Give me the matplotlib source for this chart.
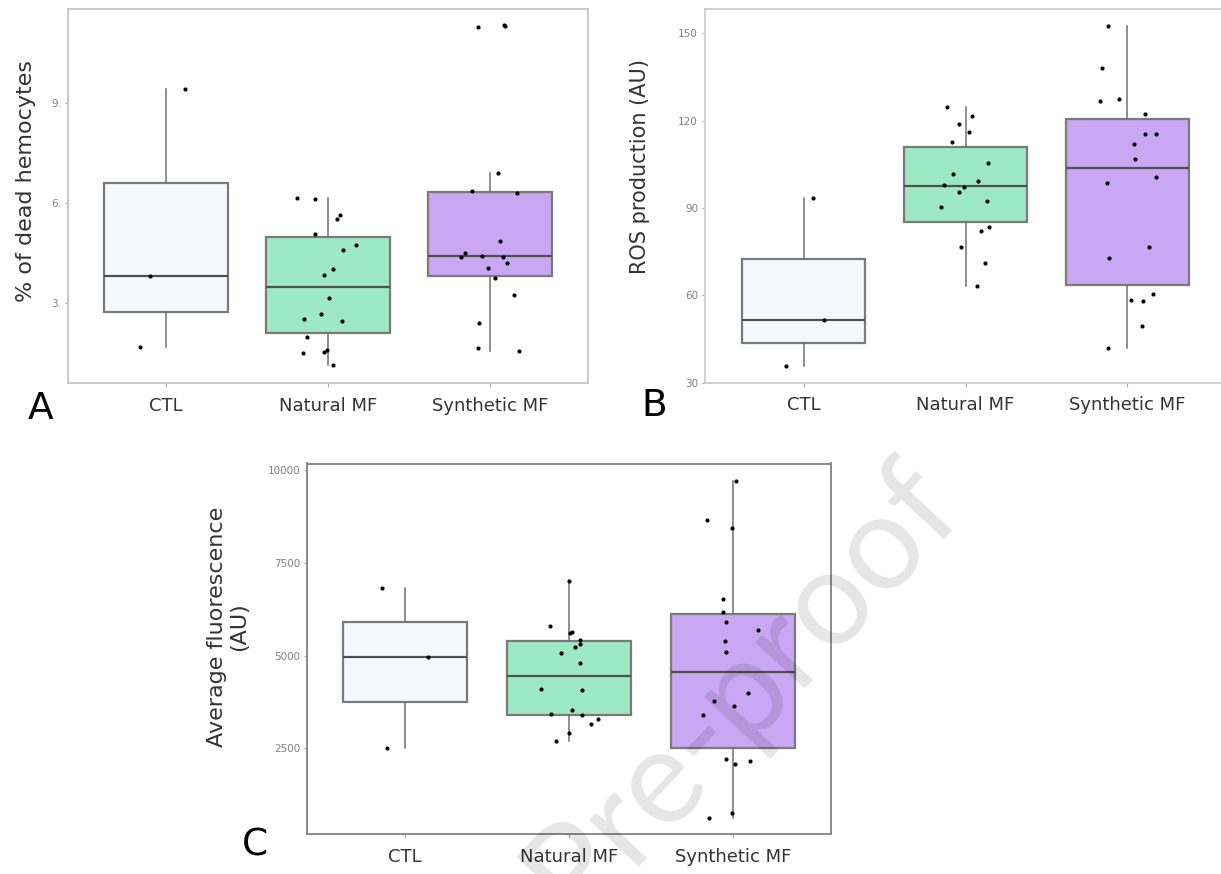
import numpy as np
import matplotlib
matplotlib.use("Agg")
import matplotlib.pyplot as plt

groups = ["CTL", "Natural MF", "Synthetic MF"]
box_colors = ["#f5f9fe", "#9de9c3", "#c9a7f2"]

# A: % of dead hemocytes
dead_ctl = [1.66, 3.79, 9.40]
dead_nat = [1.12, 1.50, 1.53, 1.57, 1.98, 2.44, 2.51, 2.67, 3.14, 3.83,
            4.00, 4.58, 4.72, 5.06, 5.51, 5.62, 6.11, 6.15]
dead_syn = [1.56, 1.64, 2.38, 3.22, 3.74, 4.04, 4.19, 4.36, 4.37, 4.41,
            4.49, 4.84, 6.28, 6.34, 6.88, 11.28, 11.30, 11.32]

# B: ROS production (AU)
ros_ctl = [35.8, 51.6, 93.5]
ros_nat = [63.2, 71.0, 76.5, 82.0, 83.5, 90.4, 92.3, 95.5, 97.0, 97.8,
           99.1, 101.5, 105.4, 112.6, 116.1, 118.9, 121.6, 124.8]
ros_syn = [41.7, 49.5, 58.0, 58.4, 60.4, 72.6, 76.7, 98.4, 100.7, 106.7,
           112.0, 115.2, 115.3, 122.4, 126.6, 127.4, 138.0, 152.6]

# C: average fluorescence (AU)
fluo_ctl = [2500, 4973, 6826]
fluo_nat = [2707, 2914, 3139, 3282, 3390, 3426, 3525, 4083, 4110, 4811,
            5063, 5225, 5324, 5423, 5612, 5630, 5800, 6997]
fluo_syn = [611, 755, 2077, 2149, 2212, 3390, 3633, 3768, 3993, 5099,
            5396, 5692, 5908, 6187, 6529, 8444, 8660, 9703]

rng = np.random.default_rng(3)

W, H = 1221, 874
fig = plt.figure(figsize=(W / 100, H / 100), dpi=100)


def px_axes(left, top, right, bottom):
    return fig.add_axes([left / W, 1 - bottom / H, (right - left) / W, (bottom - top) / H])


def draw_panel(ax, data, yticks, ylabels, ylim, xlim, spine_col):
    pos = np.arange(len(data))
    bp = ax.boxplot(data, positions=pos, widths=0.76, whis=1.5, showfliers=False,
                    patch_artist=True, showcaps=False,
                    medianprops=dict(color="#505050", linewidth=1.6),
                    whiskerprops=dict(color="#707070", linewidth=1.1),
                    boxprops=dict(edgecolor="#7a7a7a", linewidth=1.6))
    for patch, c in zip(bp["boxes"], box_colors):
        patch.set_facecolor(c)
    for i, vals in enumerate(data):
        x = i + rng.uniform(-0.19, 0.19, len(vals))
        ax.scatter(x, vals, s=9, color="black", zorder=5, linewidths=0)
    ax.set_xlim(*xlim)
    ax.set_ylim(*ylim)
    ax.set_xticks(pos)
    ax.set_xticklabels(groups, fontsize=13, color="#333333")
    ax.set_yticks(yticks)
    ax.set_yticklabels(ylabels, fontsize=7.5, color="#808080")
    ax.tick_params(axis="x", length=3, color="#aaaaaa", pad=7)
    ax.tick_params(axis="y", length=2, color="#aaaaaa", pad=3)
    for s in ax.spines.values():
        s.set_color(spine_col)
        s.set_linewidth(1.4)


axA = px_axes(68, 8.5, 588, 382.7)
draw_panel(axA, [dead_ctl, dead_nat, dead_syn], [3, 6, 9], ["3.", "6.", "9."],
           (0.6, 11.83), (-0.605, 2.605), "#c8c8c8")

axB = px_axes(705, 9.3, 1226, 382.5)
draw_panel(axB, [ros_ctl, ros_nat, ros_syn], [30, 60, 90, 120, 150],
           ["30", "60", "90", "120", "150"], (30, 158.2), (-0.61, 2.61), "#d0d0d0")

axC = px_axes(307, 463.5, 831, 834)
draw_panel(axC, [fluo_ctl, fluo_nat, fluo_syn], [2500, 5000, 7500, 10000],
           ["2500", "5000", "7500", "10000"], (185, 10180), (-0.6, 2.6), "#8a8a8a")

fig.text(26 / W, 1 - 181 / H, "% of dead hemocytes", rotation=90, ha="center",
         va="center", fontsize=16, color="#333333")
fig.text(640 / W, 1 - 167 / H, "ROS production (AU)", rotation=90, ha="center",
         va="center", fontsize=15, color="#333333")
fig.text(228 / W, 1 - 627 / H, "Average fluorescence\n(AU)", rotation=90, ha="center",
         va="center", fontsize=16, color="#333333", multialignment="center",
         linespacing=1.1)

fig.text(41 / W, 1 - 409 / H, "A", ha="center", va="center", fontsize=27)
fig.text(654 / W, 1 - 406 / H, "B", ha="center", va="center", fontsize=27)
fig.text(255 / W, 1 - 846 / H, "C", ha="center", va="center", fontsize=27)

# watermark, partly running off the bottom edge as in the source page
fig.text(742 / W, 1 - 688 / H, "Pre-proof", rotation=47, ha="center", va="center",
         fontsize=96, family=["Lato", "DejaVu Sans"], fontweight="normal",
         color="black", alpha=0.1, zorder=20)

fig.savefig("out.png", dpi=100)
